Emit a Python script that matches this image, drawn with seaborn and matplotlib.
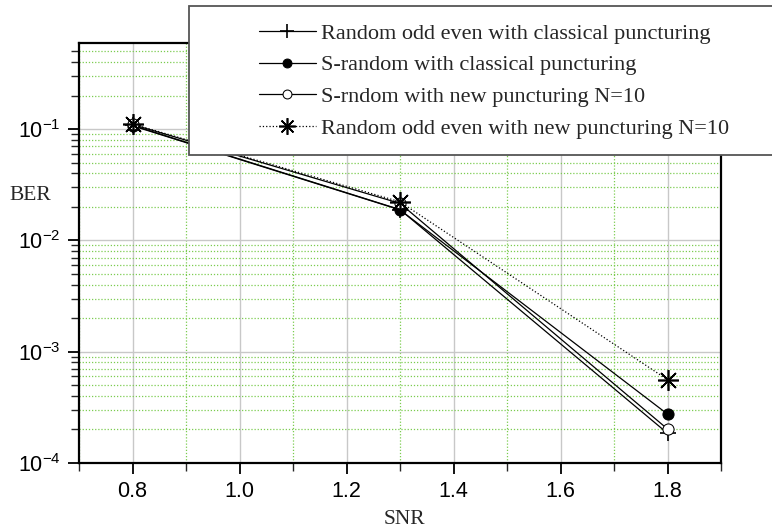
import numpy as np
import pandas as pd
import matplotlib.pyplot as plt
import seaborn as sns
from matplotlib.ticker import LogLocator, MultipleLocator, NullFormatter
from matplotlib.patches import Rectangle

# data
snr = [0.8, 1.3, 1.8]
ber_rand_classic = [0.108, 0.0189, 1.85e-4]
ber_srand_classic = [0.107, 0.0188, 2.75e-4]
ber_srand_new = [0.110, 0.0215, 2.02e-4]
ber_rand_new = [0.111, 0.0222, 5.6e-4]

labels = ['Random odd even with classical puncturing',
          'S-random with classical puncturing',
          'S-rndom with new puncturing N=10',
          'Random odd even with new puncturing N=10']

sns.set_style('white')
plt.rcParams['font.family'] = ['Liberation Sans', 'DejaVu Sans']
plt.rcParams['mathtext.fontset'] = 'custom'
plt.rcParams['mathtext.rm'] = 'Liberation Sans'

fig = plt.figure(figsize=(7.72, 5.31), dpi=100)
ax = fig.add_axes([79/772, 1 - 463/531, (721 - 79)/772, (463 - 43)/531])

styles = [
    dict(marker='+', markersize=12, mew=1.2, mfc='black', linestyle='-'),
    dict(marker='o', markersize=8, mfc='black', linestyle='-'),
    dict(marker='o', markersize=8, mfc='white', linestyle='-'),
    dict(marker=(8, 2, 0), markersize=15, mew=1.2, linestyle=':'),
]
series = [ber_rand_classic, ber_srand_classic, ber_srand_new, ber_rand_new]

for vals, lab, st in zip(series, labels, styles):
    df = pd.DataFrame({'snr': snr, 'ber': vals})
    sns.lineplot(data=df, x='snr', y='ber', ax=ax, color='black', lw=0.9,
                 mec='black', label=lab, zorder=3, **st)

handles, labs = ax.get_legend_handles_labels()
ax.legend_.remove()

ax.set_yscale('log')
ax.set_xlim(0.7, 1.9)
ax.set_ylim(1e-4, 0.593)

ax.xaxis.set_minor_locator(MultipleLocator(0.1))
ax.set_xticks([0.8, 1.0, 1.2, 1.4, 1.6, 1.8])
ax.set_xticklabels(['0.8', '1.0', '1.2', '1.4', '1.6', '1.8'])
ax.yaxis.set_major_locator(LogLocator(base=10, numticks=10))
ax.yaxis.set_minor_locator(LogLocator(base=10, subs=np.arange(2, 10), numticks=20))
ax.yaxis.set_minor_formatter(NullFormatter())

ax.grid(True, which='major', color='#c8c8c8', lw=1.0, ls='-', zorder=0)
ax.grid(True, which='minor', color='#7ccc50', lw=0.9, ls=(0, (1, 1.5)), zorder=0)
ax.set_axisbelow(True)

ax.tick_params(which='major', direction='out', length=8, width=1.3, labelsize=15.5,
               left=True, bottom=True, colors='black', pad=5)
ax.tick_params(which='minor', direction='out', length=6, width=1.0,
               left=True, bottom=True)
for sp in ax.spines.values():
    sp.set_color('black')
    sp.set_linewidth(1.6)

ax.set_xlabel('')
ax.set_ylabel('')
fig.text(30/772, 1 - 195/531, 'BER', family='Liberation Serif', fontsize=15.5,
         ha='center', va='center')
fig.text(404/772, 1 - 520/531, 'SNR', family='Liberation Serif', fontsize=15.5,
         ha='center', va='center')

# legend box sticking out past the right edge
fig.patches.append(Rectangle((189/772, 1 - 155/531), 0.8, 149/531,
                             transform=fig.transFigure, facecolor='white',
                             edgecolor='#555555', lw=1.3, zorder=5))
leg = fig.legend(handles, labs, loc='center left',
                 bbox_to_anchor=(248/772, 1 - 81/531),
                 frameon=False, markerscale=0.8,
                 prop={'family': 'Liberation Serif', 'size': 16},
                 handlelength=2.55, handletextpad=0.25, labelspacing=0.5,
                 borderpad=0)
leg.set_zorder(6)

fig.savefig('out.png', dpi=100)
